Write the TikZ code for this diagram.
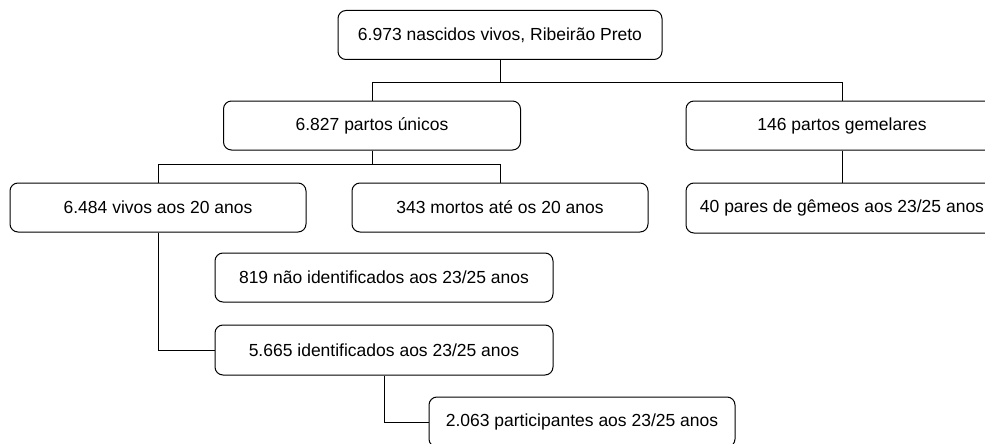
\documentclass[tikz,border=0pt]{standalone}
\usepackage{fontspec}
\setmainfont{Liberation Sans}
\usepackage{tikz}
\usetikzlibrary{positioning}

\tikzset{caixa/.style={draw, rounded corners=8pt, line width=1pt, minimum height=49pt, inner sep=0pt, font=\fontsize{17.5}{21}\selectfont}}

\begin{document}
\begin{tikzpicture}[x=1pt,y=-1pt,line width=1pt]
		\useasboundingbox (0,0) rectangle (985,444);

		\node[caixa, minimum width=324pt] (nascidos) at (500,35) {6.973 nascidos vivos, Ribeirão Preto};
		\node[caixa, minimum width=297pt] (unicos) at (372,125.5) {6.827 partos únicos};
		\node[caixa, minimum width=312pt] (gemelares) at (842,125.5) {146 partos gemelares};
		\node[caixa, minimum width=296pt] (vivos) at (158,207.5) {6.484 vivos aos 20 anos};
		\node[caixa, minimum width=296pt] (mortos) at (500,207.5) {343 mortos até os 20 anos};
		\node[caixa, minimum width=312pt, minimum height=50pt] (gemeos) at (842,208) {40 pares de gêmeos aos 23/25 anos};
		\node[caixa, minimum width=338pt] (naoident) at (384,277.5) {819 não identificados aos 23/25 anos};
		\node[caixa, minimum width=338pt, minimum height=50pt] (ident) at (384,350) {5.665 identificados aos 23/25 anos};
		\node[caixa, minimum width=306pt, minimum height=50pt] (partic) at (582,422) {2.063 participantes aos 23/25 anos};

		\coordinate (n1) at (500,82);
		\coordinate (u1) at (372,164);

		\draw (nascidos) -- (n1) -| (unicos);
		\draw (n1) -| (gemelares);
		\draw (unicos) -- (u1) -| (vivos);
		\draw (u1) -| (mortos);
		\draw (gemelares) -- (gemeos);
		\draw (vivos) |- (ident);
		\draw (ident) |- (partic);
	\end{tikzpicture}
\end{document}
